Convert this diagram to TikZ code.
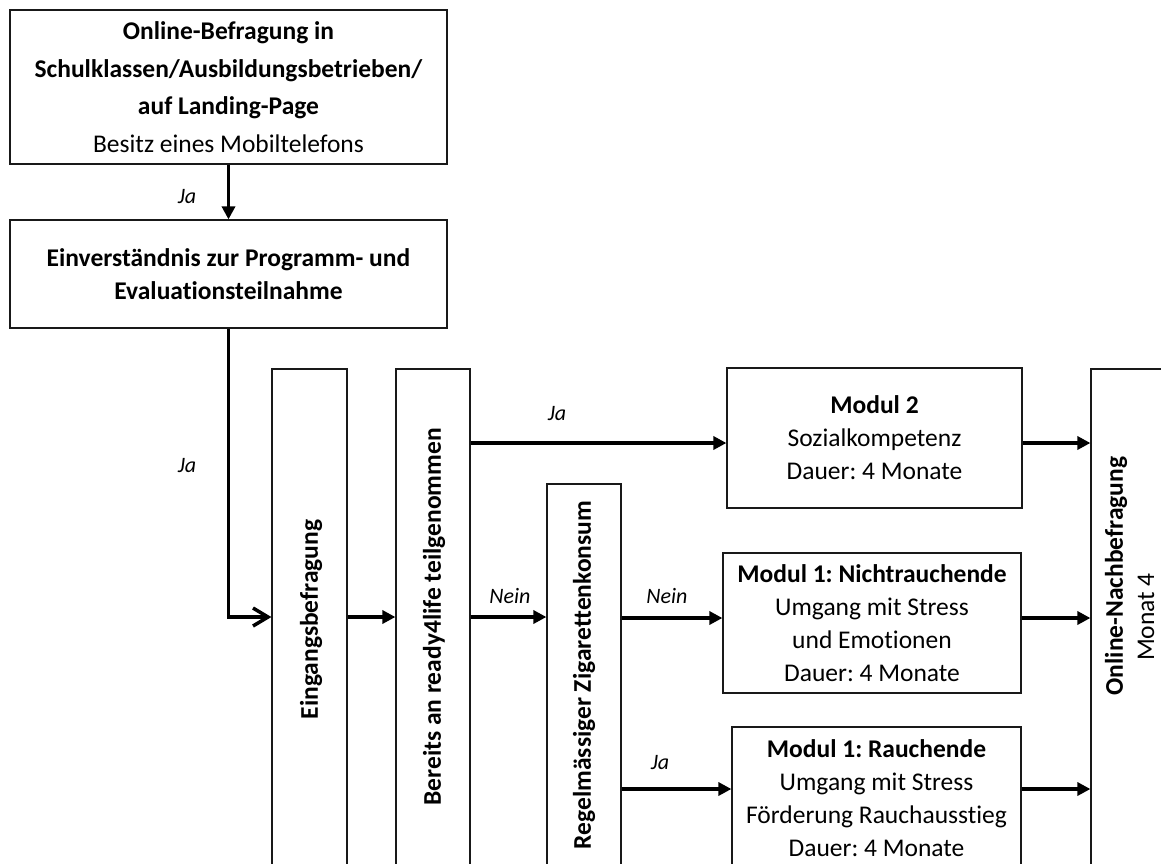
\documentclass[tikz,border=0pt]{standalone}
\usepackage{fontspec}
\setmainfont{Carlito}[Ligatures=CommonOff]
\usetikzlibrary{arrows.meta}
\frenchspacing
\begin{document}
\frenchspacing
\begin{tikzpicture}[x=1pt,y=-1pt,
  box/.style={draw=black!90, line width=1.2pt, inner sep=0pt, align=center, font=\fontsize{25.5}{33}\selectfont},
  vtext/.style={rotate=90, font=\fontsize{25.5}{30}\selectfont\bfseries},
  lbl/.style={font=\fontsize{22}{26}\selectfont\itshape},
  conn/.style={line width=3.5pt, -{Triangle[length=13pt,width=13pt]}},
  openconn/.style={line width=3.5pt, -{Straight Barb[length=15pt,width=18pt]}}]
\useasboundingbox (0,0) rectangle (1161,863);

% boxes
\node[box, minimum width=437pt, minimum height=154pt, font=\fontsize{25.5}{37.7}\selectfont] (b1) at (228.5,87)
  {\textbf{Online-Befragung in}\\ \textbf{Schulklassen/Ausbildungsbetrieben/}\\ \textbf{auf Landing-Page}\\ Besitz eines Mobiltelefons};
\node[box, minimum width=437pt, minimum height=108pt] (b2) at (228.5,274)
  {\textbf{Einverständnis zur Programm- und}\\ \textbf{Evaluationsteilnahme}};

\node[box, minimum width=75pt, minimum height=499pt] (ein) at (309.5,618.5) {};
\node[vtext] (eint) at (311,619.5) {Eingangsbefragung};
\node[box, minimum width=74pt, minimum height=499pt] (ber) at (433,618.5) {};
\node[vtext] (bert) at (434,617) {Bereits an ready4life teilgenommen};
\node[box, minimum width=74pt, minimum height=384pt] (reg) at (584,676) {};
\node[vtext] (regt) at (584,675) {Regelmässiger Zigarettenkonsum};

\node[box, minimum width=295pt, minimum height=140pt] (m2) at (874.5,438)
  {\textbf{Modul 2}\\ Sozialkompetenz\\ Dauer: 4 Monate};
\node[box, minimum width=298pt, minimum height=140pt] (m1n) at (872,623)
  {\textbf{Modul 1: Nichtrauchende}\\ Umgang mit Stress\\ und Emotionen\\ Dauer: 4 Monate};
\node[box, minimum width=289pt, minimum height=143pt] (m1r) at (876.5,798.5)
  {\textbf{Modul 1: Rauchende}\\ Umgang mit Stress\\ Förderung Rauchausstieg\\ Dauer: 4 Monate};

\node[box, minimum width=90pt, minimum height=499pt] (onl) at (1136,618.5) {};
\node[vtext] (onlt) at (1116,576) {Online-Nachbefragung};
\node[rotate=90, font=\fontsize{25.5}{30}\selectfont] (onlm) at (1146,617) {Monat 4};

% connectors
\draw[conn] (b1.south) -- (b2.north);
\draw[openconn] (b2.south) |- (ein.west |- 0,617);
\draw[conn] (ein.east |- 0,617) -- (ber.west |- 0,617);
\draw[conn] (ber.east |- 0,443) -- (m2.west |- 0,443);
\draw[conn] (ber.east |- 0,617) -- (reg.west |- 0,617);
\draw[conn] (reg.east |- 0,618) -- (m1n.west |- 0,618);
\draw[conn] (reg.east |- 0,789) -- (m1r.west |- 0,789);
\draw[conn] (m2.east |- 0,443) -- (onl.west |- 0,443);
\draw[conn] (m1n.east |- 0,618) -- (onl.west |- 0,618);
\draw[conn] (m1r.east |- 0,789) -- (onl.west |- 0,789);

% labels
\node[lbl] (l1) at (187,197) {Ja};
\node[lbl] (l2) at (187,466) {Ja};
\node[lbl] (l3) at (557,414) {Ja};
\node[lbl] (l4) at (510,596) {Nein};
\node[lbl] (l5) at (667,596) {Nein};
\node[lbl] (l6) at (660,763) {Ja};
\end{tikzpicture}
\end{document}
